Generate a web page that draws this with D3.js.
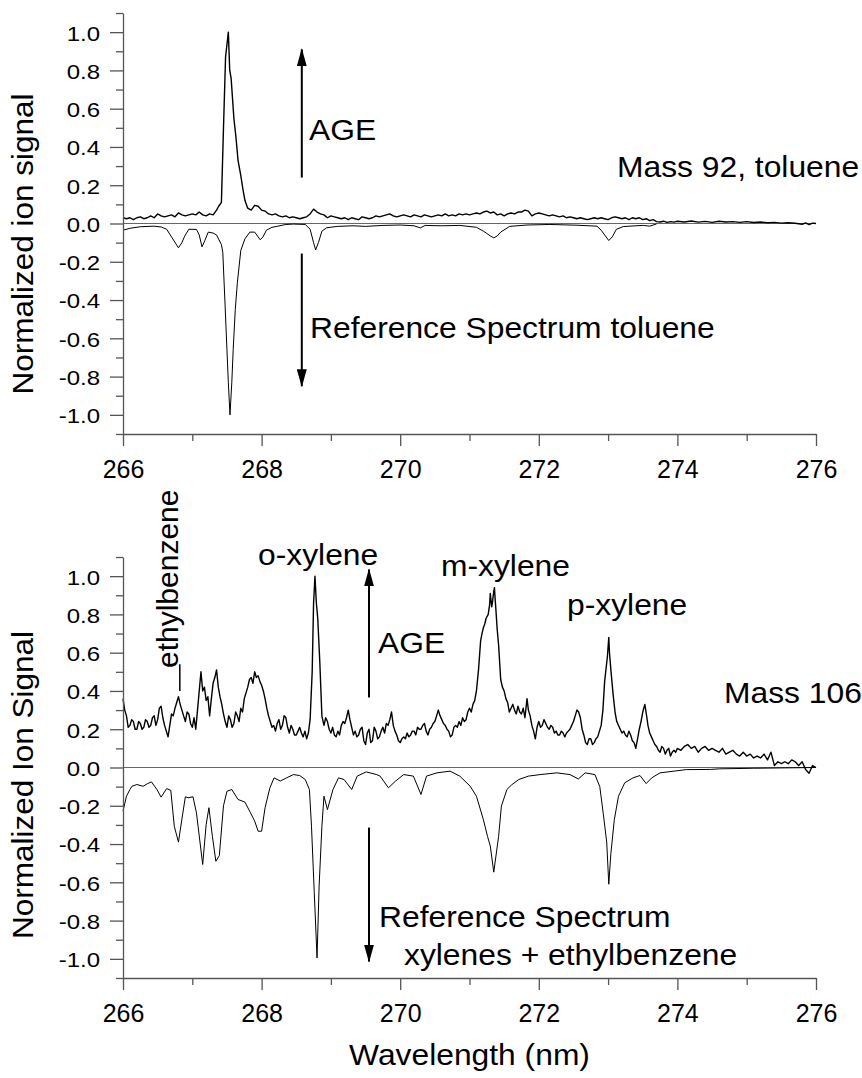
<!DOCTYPE html>
<html>
<head>
<meta charset="utf-8">
<script src="https://cdn.jsdelivr.net/npm/d3@7"></script>
<style>
body { margin: 0; background: #fff; }
text { font-family: Arial, "Liberation Sans", sans-serif; fill: #000; }
.axis path, .axis line { stroke: #555; stroke-width: 1.3; }
.axis text { font-size: 25px; fill: #000; }
</style>
</head>
<body>
<script>
// tick values
var xMajor = [266, 268, 270, 272, 274, 276],
    xMinor = [267, 269, 271, 273, 275],
    yMajor = [-1.0, -0.8, -0.6, -0.4, -0.2, 0.0, 0.2, 0.4, 0.6, 0.8, 1.0],
    yMinor = [-1.1, -0.9, -0.7, -0.5, -0.3, -0.1, 0.1, 0.3, 0.5, 0.7, 0.9, 1.1];

// mass 92 (toluene), AGE signal  [wavelength nm, normalized signal]
var tolAge = [
 [266.00,0.03],[266.05,0.025],[266.10,0.03],[266.15,0.02],[266.20,0.03],[266.25,0.035],[266.30,0.025],
 [266.35,0.03],[266.40,0.04],[266.45,0.03],[266.50,0.05],[266.55,0.04],[266.60,0.035],[266.65,0.04],
 [266.70,0.045],[266.75,0.035],[266.80,0.055],[266.85,0.045],[266.90,0.04],[266.95,0.045],[267.00,0.05],
 [267.05,0.045],[267.10,0.06],[267.15,0.045],[267.20,0.04],[267.25,0.05],[267.30,0.045],[267.35,0.07],
 [267.38,0.09],[267.42,0.11],[267.45,0.50],[267.48,0.87],[267.52,1.00],[267.54,0.80],[267.56,0.76],
 [267.60,0.55],[267.63,0.45],[267.66,0.33],[267.70,0.25],[267.73,0.18],[267.76,0.12],[267.80,0.08],
 [267.85,0.07],[267.90,0.095],[267.95,0.09],[268.00,0.07],[268.05,0.065],[268.10,0.05],[268.15,0.045],
 [268.20,0.05],[268.25,0.04],[268.30,0.035],[268.35,0.04],[268.40,0.03],[268.45,0.035],[268.50,0.03],
 [268.55,0.025],[268.60,0.03],[268.65,0.035],[268.70,0.05],[268.75,0.075],[268.80,0.06],[268.85,0.05],
 [268.90,0.045],[268.95,0.03],[269.00,0.04],[269.05,0.035],[269.10,0.03],[269.15,0.025],[269.20,0.03],
 [269.25,0.02],[269.30,0.03],[269.35,0.025],[269.40,0.02],[269.45,0.035],[269.50,0.03],[269.55,0.025],
 [269.60,0.03],[269.65,0.04],[269.70,0.035],[269.75,0.04],[269.80,0.045],[269.85,0.05],[269.90,0.04],
 [269.95,0.035],[270.00,0.04],[270.05,0.045],[270.10,0.04],[270.15,0.035],[270.20,0.045],[270.25,0.04],
 [270.30,0.035],[270.35,0.045],[270.40,0.04],[270.45,0.035],[270.50,0.04],[270.55,0.045],[270.60,0.04],
 [270.65,0.05],[270.70,0.04],[270.75,0.045],[270.80,0.04],[270.85,0.05],[270.90,0.045],[270.95,0.05],
 [271.00,0.045],[271.05,0.05],[271.10,0.055],[271.15,0.05],[271.20,0.06],[271.25,0.065],[271.30,0.055],
 [271.35,0.06],[271.40,0.045],[271.45,0.05],[271.50,0.04],[271.55,0.05],[271.60,0.055],[271.65,0.05],
 [271.70,0.06],[271.75,0.06],[271.80,0.07],[271.85,0.065],[271.90,0.04],[271.95,0.05],[272.00,0.055],
 [272.05,0.05],[272.10,0.045],[272.15,0.04],[272.20,0.045],[272.25,0.04],[272.30,0.035],[272.35,0.04],
 [272.40,0.03],[272.45,0.035],[272.50,0.03],[272.55,0.025],[272.60,0.03],[272.65,0.025],[272.70,0.02],
 [272.75,0.025],[272.80,0.03],[272.85,0.025],[272.90,0.03],[272.95,0.025],[273.00,0.02],[273.05,0.03],
 [273.10,0.035],[273.15,0.03],[273.20,0.025],[273.25,0.03],[273.30,0.02],[273.35,0.03],[273.40,0.025],
 [273.45,0.03],[273.50,0.02],[273.55,0.025],[273.60,0.015],[273.65,0.02],[273.70,0.01],[273.75,0.008],
 [273.80,0.012],[273.85,0.006],[273.90,0.01],[273.95,0.007],[274.00,0.012],[274.10,0.008],[274.20,0.013],
 [274.30,0.007],[274.40,0.011],[274.50,0.006],[274.60,0.012],[274.70,0.008],[274.80,0.01],[274.90,0.006],
 [275.00,0.01],[275.10,0.005],[275.20,0.008],[275.30,0.004],[275.40,0.006],[275.50,0.002],[275.60,0.004],
 [275.70,0.001],[275.80,-0.004],[275.85,0.003],[275.90,-0.006],[275.95,0.002],[276.00,0.0]
];

// toluene reference spectrum (plotted negative)
var tolRef = [
 [266.00,-0.035],[266.10,-0.025],[266.25,-0.017],[266.44,-0.014],[266.55,-0.018],[266.63,-0.03],
 [266.70,-0.07],[266.80,-0.127],[266.85,-0.10],[266.89,-0.066],[266.95,-0.03],[267.06,-0.031],
 [267.10,-0.06],[267.14,-0.122],[267.18,-0.09],[267.23,-0.045],[267.30,-0.05],[267.35,-0.06],
 [267.42,-0.11],[267.44,-0.15],[267.47,-0.40],[267.50,-0.66],[267.52,-0.83],[267.544,-1.0],
 [267.57,-0.83],[267.59,-0.66],[267.62,-0.45],[267.65,-0.31],[267.70,-0.14],[267.76,-0.08],
 [267.83,-0.045],[267.90,-0.045],[267.95,-0.07],[267.98,-0.085],[268.02,-0.07],[268.07,-0.035],
 [268.15,-0.02],[268.22,-0.015],[268.35,-0.005],[268.46,-0.003],[268.63,-0.005],[268.70,-0.03],
 [268.75,-0.10],[268.78,-0.138],[268.82,-0.10],[268.87,-0.04],[268.94,-0.022],[269.10,-0.015],
 [269.32,-0.012],[269.50,-0.015],[269.75,-0.01],[270.00,-0.008],[270.20,-0.012],[270.29,-0.023],
 [270.36,-0.01],[270.60,-0.012],[270.86,-0.01],[271.10,-0.02],[271.20,-0.04],[271.25,-0.052],
 [271.30,-0.065],[271.35,-0.075],[271.40,-0.065],[271.45,-0.045],[271.58,-0.015],[271.83,-0.008],
 [272.16,-0.005],[272.55,-0.009],[272.84,-0.014],[272.90,-0.035],[272.95,-0.06],[273.01,-0.089],
 [273.06,-0.07],[273.12,-0.03],[273.22,-0.016],[273.40,-0.012],[273.51,-0.01],[273.60,-0.014],
 [273.70,-0.002]
];

// mass 106 (xylenes + ethylbenzene), AGE signal
var xylAge = [
 [266.000,0.36],[266.025,0.30],[266.050,0.27],[266.075,0.21],[266.100,0.22],[266.125,0.25],[266.150,0.24],
 [266.175,0.20],[266.200,0.20],[266.225,0.24],[266.250,0.23],[266.275,0.20],[266.300,0.21],[266.325,0.25],
 [266.350,0.24],[266.375,0.21],[266.400,0.22],[266.425,0.26],[266.450,0.27],[266.475,0.22],[266.500,0.25],
 [266.525,0.31],[266.550,0.32],[266.575,0.26],[266.600,0.22],[266.625,0.19],[266.650,0.16],[266.675,0.22],
 [266.700,0.28],[266.725,0.27],[266.750,0.31],[266.775,0.34],[266.800,0.37],[266.825,0.33],[266.850,0.30],
 [266.875,0.27],[266.900,0.24],[266.925,0.29],[266.950,0.28],[266.975,0.23],[267.000,0.21],[267.025,0.26],
 [267.050,0.20],[267.075,0.30],[267.100,0.40],[267.125,0.50],[267.150,0.40],[267.175,0.42],[267.200,0.35],
 [267.225,0.37],[267.250,0.27],[267.275,0.36],[267.300,0.44],[267.325,0.47],[267.350,0.51],[267.375,0.42],
 [267.400,0.37],[267.425,0.33],[267.450,0.28],[267.475,0.24],[267.500,0.21],[267.525,0.27],[267.550,0.25],
 [267.575,0.21],[267.600,0.23],[267.625,0.29],[267.650,0.27],[267.675,0.24],[267.700,0.31],[267.725,0.29],
 [267.750,0.36],[267.775,0.39],[267.800,0.42],[267.825,0.46],[267.850,0.47],[267.875,0.44],[267.900,0.50],
 [267.925,0.47],[267.950,0.48],[267.975,0.45],[268.000,0.43],[268.025,0.40],[268.050,0.36],[268.075,0.31],
 [268.100,0.27],[268.125,0.24],[268.150,0.21],[268.175,0.22],[268.200,0.19],[268.225,0.23],[268.250,0.25],
 [268.275,0.20],[268.300,0.22],[268.325,0.27],[268.350,0.26],[268.375,0.21],[268.400,0.18],[268.425,0.22],
 [268.450,0.20],[268.475,0.17],[268.500,0.17],[268.525,0.19],[268.550,0.21],[268.575,0.18],[268.600,0.16],
 [268.625,0.19],[268.650,0.15],[268.675,0.18],[268.700,0.25],[268.730,0.50],[268.750,0.86],[268.770,1.00],
 [268.790,0.86],[268.810,0.78],[268.840,0.55],[268.870,0.27],[268.900,0.22],[268.925,0.26],[268.950,0.24],
 [268.975,0.20],[269.000,0.18],[269.025,0.21],[269.050,0.17],[269.075,0.16],[269.100,0.19],[269.125,0.17],
 [269.150,0.22],[269.175,0.24],[269.200,0.23],[269.225,0.26],[269.250,0.30],[269.275,0.25],[269.300,0.21],
 [269.325,0.17],[269.350,0.19],[269.375,0.16],[269.400,0.17],[269.425,0.20],[269.450,0.21],[269.475,0.14],
 [269.500,0.12],[269.525,0.18],[269.550,0.20],[269.575,0.13],[269.600,0.14],[269.625,0.21],[269.650,0.19],
 [269.675,0.15],[269.700,0.16],[269.725,0.19],[269.750,0.21],[269.775,0.18],[269.800,0.23],[269.825,0.22],
 [269.850,0.25],[269.875,0.29],[269.900,0.22],[269.925,0.19],[269.950,0.17],[269.975,0.14],[270.000,0.13],
 [270.025,0.15],[270.050,0.16],[270.075,0.15],[270.100,0.18],[270.125,0.16],[270.150,0.17],[270.175,0.19],
 [270.200,0.19],[270.225,0.17],[270.250,0.21],[270.275,0.20],[270.300,0.20],[270.325,0.22],[270.350,0.23],
 [270.375,0.19],[270.400,0.17],[270.425,0.20],[270.450,0.21],[270.475,0.23],[270.500,0.24],[270.525,0.27],
 [270.550,0.30],[270.575,0.27],[270.600,0.25],[270.625,0.23],[270.650,0.22],[270.675,0.20],[270.700,0.19],
 [270.725,0.16],[270.750,0.17],[270.775,0.21],[270.800,0.22],[270.825,0.21],[270.850,0.24],[270.875,0.22],
 [270.900,0.26],[270.925,0.24],[270.950,0.25],[270.975,0.29],[271.000,0.31],[271.025,0.29],[271.050,0.33],
 [271.075,0.35],[271.100,0.40],[271.130,0.51],[271.160,0.66],[271.180,0.70],[271.200,0.73],[271.220,0.75],
 [271.240,0.78],[271.270,0.80],[271.290,0.85],[271.300,0.91],[271.320,0.84],[271.330,0.86],[271.350,0.92],
 [271.360,0.94],[271.370,0.88],[271.380,0.83],[271.400,0.72],[271.420,0.64],[271.450,0.46],[271.475,0.42],
 [271.500,0.40],[271.525,0.36],[271.550,0.34],[271.575,0.29],[271.600,0.31],[271.625,0.33],[271.650,0.30],
 [271.675,0.28],[271.700,0.32],[271.725,0.29],[271.750,0.28],[271.775,0.31],[271.800,0.26],[271.830,0.36],
 [271.850,0.30],[271.875,0.27],[271.900,0.22],[271.925,0.19],[271.950,0.15],[271.975,0.21],[272.000,0.24],
 [272.025,0.21],[272.050,0.22],[272.075,0.25],[272.100,0.23],[272.125,0.21],[272.150,0.20],[272.175,0.22],
 [272.200,0.21],[272.225,0.18],[272.250,0.19],[272.275,0.17],[272.300,0.17],[272.325,0.19],[272.350,0.18],
 [272.375,0.16],[272.400,0.18],[272.425,0.19],[272.450,0.20],[272.475,0.22],[272.500,0.24],[272.525,0.27],
 [272.550,0.30],[272.575,0.29],[272.600,0.26],[272.625,0.20],[272.650,0.17],[272.675,0.13],[272.700,0.12],
 [272.725,0.15],[272.750,0.15],[272.775,0.12],[272.800,0.13],[272.825,0.15],[272.850,0.16],[272.875,0.19],
 [272.900,0.22],[272.925,0.30],[272.950,0.45],[272.990,0.58],[273.010,0.68],[273.020,0.60],[273.040,0.51],
 [273.070,0.39],[273.100,0.29],[273.125,0.24],[273.150,0.22],[273.175,0.20],[273.200,0.18],[273.225,0.19],
 [273.250,0.17],[273.275,0.16],[273.300,0.19],[273.325,0.17],[273.350,0.14],[273.375,0.13],[273.400,0.10],
 [273.425,0.15],[273.450,0.20],[273.475,0.24],[273.500,0.29],[273.530,0.33],[273.560,0.26],[273.575,0.22],
 [273.600,0.18],[273.625,0.16],[273.650,0.14],[273.675,0.12],[273.700,0.11],[273.725,0.09],[273.750,0.08],
 [273.775,0.11],[273.800,0.10],[273.825,0.07],[273.850,0.09],[273.875,0.10],[273.900,0.06],[273.925,0.08],
 [273.950,0.09],[273.975,0.08],[274.000,0.10],[274.05,0.09],[274.10,0.11],[274.15,0.12],[274.20,0.10],
 [274.25,0.11],[274.30,0.08],[274.35,0.10],[274.40,0.11],[274.45,0.09],[274.50,0.10],[274.55,0.09],
 [274.60,0.08],[274.65,0.10],[274.70,0.07],[274.75,0.08],[274.80,0.09],[274.85,0.07],[274.90,0.06],
 [274.95,0.08],[275.00,0.06],[275.05,0.07],[275.10,0.05],[275.15,0.06],[275.20,0.05],[275.25,0.07],
 [275.30,0.04],[275.35,0.08],[275.40,0.01],[275.45,0.03],[275.50,0.02],[275.55,0.03],[275.60,0.02],
 [275.65,0.04],[275.70,0.03],[275.75,0.01],[275.80,0.03],[275.85,-0.01],[275.90,-0.03],[275.95,0.01],
 [276.00,0.00]
];

// xylenes + ethylbenzene reference spectrum (plotted negative)
var xylRef = [
 [266.00,-0.228],[266.05,-0.15],[266.10,-0.115],[266.13,-0.098],[266.20,-0.089],[266.29,-0.098],
 [266.35,-0.085],[266.41,-0.075],[266.49,-0.115],[266.55,-0.155],[266.63,-0.11],[266.69,-0.12],
 [266.74,-0.307],[266.80,-0.39],[266.85,-0.27],[266.90,-0.153],[266.94,-0.158],[267.01,-0.153],
 [267.06,-0.237],[267.15,-0.507],[267.20,-0.298],[267.24,-0.21],[267.29,-0.36],[267.34,-0.49],
 [267.39,-0.46],[267.45,-0.20],[267.50,-0.124],[267.57,-0.115],[267.66,-0.167],[267.76,-0.181],
 [267.84,-0.237],[267.90,-0.28],[267.95,-0.333],[268.00,-0.333],[268.05,-0.21],[268.12,-0.106],
 [268.18,-0.054],[268.27,-0.071],[268.36,-0.054],[268.46,-0.037],[268.55,-0.042],[268.63,-0.063],
 [268.69,-0.115],[268.72,-0.307],[268.76,-0.655],[268.80,-0.995],[268.83,-0.62],[268.87,-0.307],
 [268.90,-0.15],[268.95,-0.22],[269.03,-0.115],[269.11,-0.054],[269.19,-0.063],[269.30,-0.115],
 [269.38,-0.045],[269.51,-0.023],[269.66,-0.037],[269.71,-0.045],[269.83,-0.106],[269.93,-0.072],
 [270.05,-0.037],[270.19,-0.045],[270.30,-0.141],[270.38,-0.045],[270.53,-0.028],[270.72,-0.019],
 [270.86,-0.045],[271.01,-0.098],[271.10,-0.15],[271.20,-0.272],[271.26,-0.36],[271.30,-0.41],
 [271.35,-0.547],[271.42,-0.36],[271.46,-0.202],[271.54,-0.115],[271.61,-0.09],[271.71,-0.063],
 [271.85,-0.045],[272.02,-0.037],[272.26,-0.028],[272.45,-0.037],[272.57,-0.06],[272.67,-0.028],
 [272.81,-0.037],[272.88,-0.10],[272.93,-0.24],[272.98,-0.39],[273.01,-0.61],[273.04,-0.45],
 [273.09,-0.272],[273.15,-0.15],[273.24,-0.08],[273.36,-0.054],[273.46,-0.042],[273.55,-0.084],
 [273.63,-0.054],[273.75,-0.028],[274.13,-0.011],[274.48,-0.01],[274.61,-0.007],[275.10,-0.004],
 [276.00,0.0]
];

// arrows: [wavelength, from, to]
var tolArrows = [[268.58, 0.24, 0.91], [268.58, -0.157, -0.85]];
var xylArrows = [[269.55, 0.366, 1.035], [269.55, -0.314, -1.014]];

var W = 862, H = 1078;
var left = 123, right = 816;
var stretch = 1.06;   // the original lettering runs a little wider than Arial

var svg = d3.select("body").append("svg")
    .attr("width", W)
    .attr("height", H);

svg.append("defs").append("marker")
    .attr("id", "head")
    .attr("viewBox", "0 0 18 10")
    .attr("refX", 17)
    .attr("refY", 5)
    .attr("markerUnits", "userSpaceOnUse")
    .attr("markerWidth", 18)
    .attr("markerHeight", 10)
    .attr("orient", "auto")
  .append("path")
    .attr("d", "M0,0L18,5L0,10Z")
    .attr("fill", "#000");

var x = d3.scaleLinear().domain([266, 276]).range([left, right]);

var panels = [
  {top: 13, bottom: 434, age: tolAge, ref: tolRef, arrows: tolArrows,
   ylabel: "Normalized ion signal", ylabelY: 244,
   notes: [
     {t: "AGE", x: 309, y: 140},
     {t: "Mass 92, toluene", x: 617, y: 177},
     {t: "Reference Spectrum toluene", x: 310, y: 338}
   ]},
  {top: 557, bottom: 978, age: xylAge, ref: xylRef, arrows: xylArrows,
   ylabel: "Normalized Ion Signal", ylabelY: 785,
   notes: [
     {t: "o-xylene", x: 258, y: 565},
     {t: "AGE", x: 378, y: 653},
     {t: "m-xylene", x: 441, y: 576},
     {t: "p-xylene", x: 567, y: 615},
     {t: "Mass 106", x: 724, y: 703},
     {t: "Reference Spectrum", x: 379, y: 927},
     {t: "xylenes + ethylbenzene", x: 404, y: 965}
   ]}
];

var fmt = function (v) { return v.toFixed(1); };

panels.forEach(function (p, i) {
  var y = d3.scaleLinear().domain([-1.1, 1.1]).range([p.bottom, p.top]);
  var g = svg.append("g");

  // zero line
  g.append("line")
      .attr("x1", x(266)).attr("x2", x(276))
      .attr("y1", y(0)).attr("y2", y(0))
      .attr("stroke", "#666")
      .attr("stroke-width", 1.2);

  var line = d3.line()
      .x(function (d) { return x(d[0]); })
      .y(function (d) { return y(d[1]); });

  g.append("path").datum(p.ref)
      .attr("d", line)
      .attr("fill", "none")
      .attr("stroke", "#000")
      .attr("stroke-width", 1);

  g.append("path").datum(p.age)
      .attr("d", line)
      .attr("fill", "none")
      .attr("stroke", "#000")
      .attr("stroke-width", 1.4)
      .attr("stroke-linejoin", "round");

  // axes
  g.append("g").attr("class", "axis")
      .attr("transform", "translate(" + left + ",0)")
      .call(d3.axisLeft(y).tickValues(yMajor).tickSize(13).tickSizeOuter(0)
            .tickPadding(10).tickFormat(fmt))
      .selectAll("text")
        .style("font-size", "24px")
        .attr("dy", "0.38em")
        .attr("transform", "scale(1,0.87)");
  g.append("g").attr("class", "axis")
      .attr("transform", "translate(" + left + ",0)")
      .call(d3.axisLeft(y).tickValues(yMinor).tickSize(7).tickFormat(""))
      .select(".domain").remove();

  g.append("g").attr("class", "axis")
      .attr("transform", "translate(0," + p.bottom + ")")
      .call(d3.axisBottom(x).tickValues(xMajor).tickSize(12).tickSizeOuter(0)
            .tickPadding(14).tickFormat(d3.format("d")));
  g.append("g").attr("class", "axis")
      .attr("transform", "translate(0," + p.bottom + ")")
      .call(d3.axisBottom(x).tickValues(xMinor).tickSize(7).tickFormat(""))
      .select(".domain").remove();

  // y label
  g.append("text")
      .attr("transform", "translate(33," + p.ylabelY + ") rotate(-90) scale(1.05,1)")
      .attr("text-anchor", "middle")
      .style("font-size", "30px")
      .text(p.ylabel);

  // arrows
  g.selectAll(".arrow").data(p.arrows).enter().append("line")
      .attr("class", "arrow")
      .attr("x1", function (d) { return x(d[0]); })
      .attr("x2", function (d) { return x(d[0]); })
      .attr("y1", function (d) { return y(d[1]); })
      .attr("y2", function (d) { return y(d[2]); })
      .attr("stroke", "#000")
      .attr("stroke-width", 2)
      .attr("marker-end", "url(#head)");

  g.selectAll(".note").data(p.notes).enter().append("text")
      .attr("class", "note")
      .attr("transform", function (d) {
        return "translate(" + d.x + "," + d.y + ") scale(" + stretch + ",1)";
      })
      .style("font-size", "30px")
      .text(function (d) { return d.t; });

  if (i === 1) {
    // ethylbenzene marker
    g.append("line")
        .attr("x1", x(266.82)).attr("x2", x(266.82))
        .attr("y1", y(0.54)).attr("y2", y(0.40))
        .attr("stroke", "#000")
        .attr("stroke-width", 1.5);
    g.append("text")
        .attr("transform", "translate(178,668) rotate(-90)")
        .style("font-size", "30px")
        .text("ethylbenzene");
    g.append("text")
        .attr("transform", "translate(" + (left + right) / 2 + ",1065) scale(" + stretch + ",1)")
        .attr("text-anchor", "middle")
        .style("font-size", "30px")
        .text("Wavelength (nm)");
  }
});
</script>
</body>
</html>
